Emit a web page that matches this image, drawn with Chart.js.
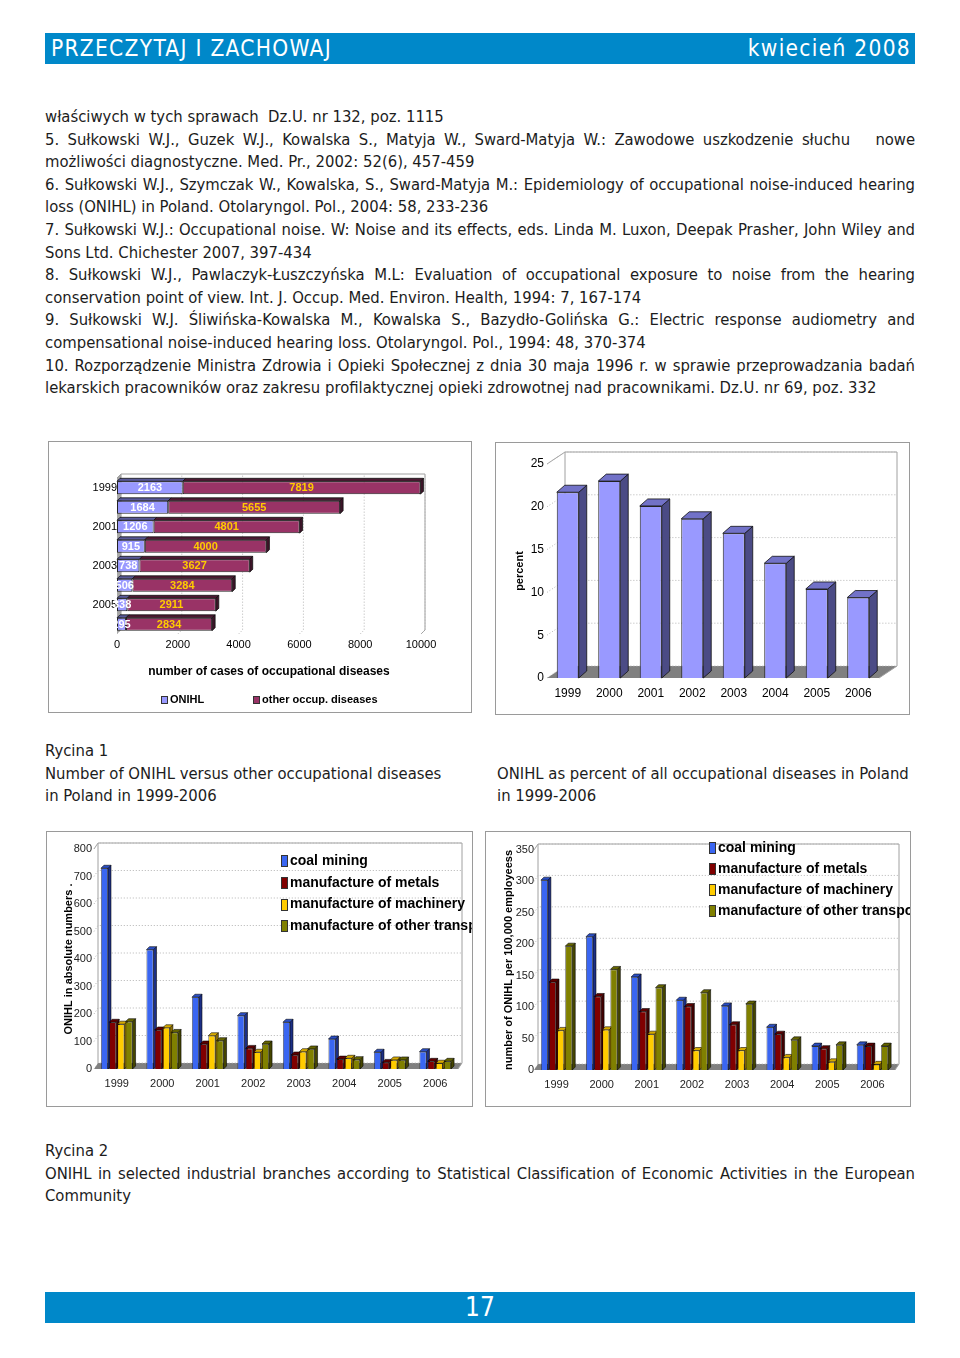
<!DOCTYPE html>
<html lang="pl">
<head>
<meta charset="utf-8">
<title>PRZECZYTAJ I ZACHOWAJ – kwiecień 2008</title>
<script src="https://cdn.jsdelivr.net/npm/chart.js@4.4.1/dist/chart.umd.min.js"></script>
<style>
  html, body { margin: 0; padding: 0; background: #fff; }
  body {
    width: 960px; height: 1358px; position: relative; overflow: hidden;
    font-family: "Liberation Sans Narrow", "DejaVu Sans Condensed", sans-serif;
    color: #1c1c1c;
  }
  .band { position: absolute; left: 45px; width: 870px; height: 31px; background: #0088c9; color: #fff; }
  #head { top: 33px; }
  #head span { position: absolute; top: 2px; font-size: 22.5px; letter-spacing: 1.3px; }
  #foot { top: 1292px; text-align: center; font-size: 26px; line-height: 31px; }
  .text { position: absolute; left: 45px; width: 870px; font-size: 16.5px; line-height: 22.6px; }
  .text div { white-space: nowrap; }
  .text div.j { text-align: justify; text-align-last: justify; white-space: normal; }
  .box { position: absolute; border: 1px solid #9a9a9a; overflow: hidden; background: #fff; }
  .box canvas { position: absolute; left: 0; top: 0; }
  .legend { position: absolute; font-family: "Liberation Sans", Arial, sans-serif; font-weight: bold; color: #000; white-space: nowrap; }
  .legend i { display: inline-block; border: 1px solid #333; margin-right: 2px; vertical-align: middle; }
</style>
</head>
<body>

<div class="band" id="head">
  <span style="left:6px">PRZECZYTAJ I ZACHOWAJ</span>
  <span style="right:4px">kwiecień 2008</span>
</div>

<div class="text" style="top:106px">
  <div>właściwych w tych sprawach&nbsp; Dz.U. nr 132, poz. 1115</div>
  <div class="j">5. Sułkowski W.J., Guzek W.J., Kowalska S., Matyja W., Sward-Matyja W.: Zawodowe uszkodzenie słuchu &nbsp; nowe</div>
  <div>możliwości diagnostyczne. Med. Pr., 2002: 52(6), 457-459</div>
  <div class="j">6. Sułkowski W.J., Szymczak W., Kowalska, S., Sward-Matyja M.: Epidemiology of occupational noise-induced hearing</div>
  <div>loss (ONIHL) in Poland. Otolaryngol. Pol., 2004: 58, 233-236</div>
  <div class="j">7. Sułkowski W.J.: Occupational noise. W: Noise and its effects, eds. Linda M. Luxon, Deepak Prasher, John Wiley and</div>
  <div>Sons Ltd. Chichester 2007, 397-434</div>
  <div class="j">8. Sułkowski W.J., Pawlaczyk-Łuszczyńska M.L: Evaluation of occupational exposure to noise from the hearing</div>
  <div>conservation point of view. Int. J. Occup. Med. Environ. Health, 1994: 7, 167-174</div>
  <div class="j">9. Sułkowski W.J. Śliwińska-Kowalska M., Kowalska S., Bazydło-Golińska G.: Electric response audiometry and</div>
  <div>compensational noise-induced hearing loss. Otolaryngol. Pol., 1994: 48, 370-374</div>
  <div class="j">10. Rozporządzenie Ministra Zdrowia i Opieki Społecznej z dnia 30 maja 1996 r. w sprawie przeprowadzania badań</div>
  <div>lekarskich pracowników oraz zakresu profilaktycznej opieki zdrowotnej nad pracownikami. Dz.U. nr 69, poz. 332</div>
</div>

<div class="box" style="left:48px;top:441px;width:422px;height:270px">
  <canvas id="chart1" width="422" height="270"></canvas>
  <div class="legend" id="legend1" style="left:112px;top:251px;font-size:11px"></div>
</div>
<div class="box" style="left:495px;top:442px;width:413px;height:271px">
  <canvas id="chart2" width="413" height="271"></canvas>
</div>

<div class="text" style="top:740px;width:420px">
  <div>Rycina 1</div>
  <div>Number of ONIHL versus other occupational diseases</div>
  <div>in Poland in 1999-2006</div>
</div>
<div class="text" style="top:762.6px;left:497px;width:420px">
  <div>ONIHL as percent of all occupational diseases in Poland</div>
  <div>in 1999-2006</div>
</div>

<div class="box" style="left:46px;top:831px;width:425px;height:274px">
  <canvas id="chart3" width="425" height="274"></canvas>
  <div class="legend" id="legend3" style="left:234px;top:18px;font-size:14px;line-height:21.7px"></div>
</div>
<div class="box" style="left:485px;top:831px;width:424px;height:274px">
  <canvas id="chart4" width="424" height="274"></canvas>
  <div class="legend" id="legend4" style="left:223px;top:5px;font-size:14px;line-height:21px"></div>
</div>

<div class="text" style="top:1140px">
  <div>Rycina 2</div>
  <div class="j">ONIHL in selected industrial branches according to Statistical Classification of Economic Activities in the European</div>
  <div>Community</div>
</div>

<div class="band" id="foot">17</div>

<script>
// --- data ---
const years = ['1999', '2000', '2001', '2002', '2003', '2004', '2005', '2006'];

// Rycina 1, left: number of cases
const onihlCases = [2163, 1684, 1206, 915, 738, 506, 338, 295];
const otherCases = [7819, 5655, 4801, 4000, 3627, 3284, 2911, 2834];

// Rycina 1, right: ONIHL as percent of all occupational diseases
const onihlPercent = [21.7, 23.0, 20.1, 18.6, 16.9, 13.4, 10.4, 9.4];

// Rycina 2: industrial branches
const branches = ['coal mining', 'manufacture of metals', 'manufacture of machinery', 'manufacture of other transport equipment'];
const coalAbs = [730, 434, 261, 194, 170, 109, 61, 63];
const metalsAbs = [170, 142, 91, 75, 51, 36, 24, 28];
const machineryAbs = [163, 150, 121, 61, 63, 39, 33, 21];
const transportAbs = [172, 133, 103, 91, 73, 34, 33, 28];

const coalRate = [302, 212, 148, 111, 102, 68, 38, 40];
const metalsRate = [140, 117, 93, 101, 72, 57, 34, 38];
const machineryRate = [63, 64, 57, 31, 31, 20, 13, 9];
const transportRate = [197, 160, 131, 123, 105, 48, 40, 38];

// --- colours ---
const branchColors = ['#3a66f2', '#800000', '#ffcc00', '#808000'];
const branchSides = ['#1c2f86', '#420000', '#8a6d00', '#454500'];
const branchTops = ['#2b4fc4', '#5e0000', '#d6aa00', '#656500'];

// squeeze the justified lines a little when the font runs wider than the column
document.querySelectorAll('.text div.j').forEach(div => {
  const txt = div.innerHTML;
  div.innerHTML = '<span style="white-space:nowrap">' + txt + '</span>';
  const w = div.firstChild.getBoundingClientRect().width;
  const room = div.clientWidth - 4;
  if (w > room) div.style.letterSpacing = ((room - w) / div.textContent.length).toFixed(3) + 'px';
  div.innerHTML = txt;
});

const FONT = '"Liberation Sans", Arial, sans-serif';
Chart.defaults.font.family = FONT;
Chart.defaults.color = '#000';

// Fake 3D look: back wall, floor, dotted grid, side and top faces of each bar.
// Runs before Chart.js paints the bar fronts, so fronts cover faces behind them.
const bar3d = {
  id: 'bar3d',
  beforeDatasetsDraw(chart, args, o) {
    const ctx = chart.ctx;
    const a = chart.chartArea;
    const horiz = chart.options.indexAxis === 'y';
    const vs = horiz ? chart.scales.x : chart.scales.y;
    const wx = o.wallX, wy = o.wallY;
    ctx.save();

    // floor (vertical charts) or left wall (horizontal chart)
    ctx.fillStyle = o.floorColor;
    ctx.beginPath();
    if (horiz) {
      ctx.moveTo(a.left, a.bottom);
      ctx.lineTo(a.left + wx, a.bottom - wy);
      ctx.lineTo(a.left + wx, a.top - wy);
      ctx.lineTo(a.left, a.top);
    } else {
      ctx.moveTo(a.left, a.bottom);
      ctx.lineTo(a.right, a.bottom);
      ctx.lineTo(a.right + wx, a.bottom - wy);
      ctx.lineTo(a.left + wx, a.bottom - wy);
    }
    ctx.closePath();
    ctx.fill();

    // wall outline
    ctx.strokeStyle = '#a0a0a0';
    ctx.lineWidth = 1;
    ctx.beginPath();
    ctx.moveTo(a.left, a.top);
    ctx.lineTo(a.left + wx, a.top - wy);
    ctx.lineTo(a.right + wx, a.top - wy);
    ctx.lineTo(a.right + wx, a.bottom - wy);
    ctx.lineTo(a.right, a.bottom);
    ctx.moveTo(a.left + wx, a.top - wy);
    ctx.lineTo(a.left + wx, a.bottom - wy);
    ctx.stroke();

    // dotted grid on the back wall
    ctx.setLineDash([1, 2]);
    ctx.strokeStyle = '#b4b4b4';
    vs.ticks.forEach(t => {
      const p = vs.getPixelForValue(t.value);
      ctx.beginPath();
      if (horiz) {
        ctx.moveTo(p, a.bottom);
        ctx.lineTo(p + wx, a.bottom - wy);
        ctx.lineTo(p + wx, a.top - wy);
      } else {
        ctx.moveTo(a.left, p);
        ctx.lineTo(a.left + wx, p - wy);
        ctx.lineTo(a.right + wx, p - wy);
      }
      ctx.stroke();
    });
    ctx.setLineDash([]);

    // side and top faces
    const dx = o.depthX, dy = o.depthY;
    const last = chart.data.datasets.length - 1;
    ctx.strokeStyle = o.edgeColor;
    ctx.lineWidth = 0.8;
    const face = (pts, fill) => {
      ctx.beginPath();
      ctx.moveTo(pts[0][0], pts[0][1]);
      for (let k = 1; k < pts.length; k++) ctx.lineTo(pts[k][0], pts[k][1]);
      ctx.closePath();
      ctx.fillStyle = fill;
      ctx.fill();
      ctx.stroke();
    };
    chart.data.datasets.forEach((ds, d) => {
      chart.getDatasetMeta(d).data.forEach(el => {
        const p = el.getProps(['x', 'y', 'base', 'width', 'height'], true);
        if (horiz) {
          const y0 = p.y - p.height / 2, y1 = p.y + p.height / 2;
          face([[p.base, y0], [p.base + dx, y0 - dy], [p.x + dx, y0 - dy], [p.x, y0]], o.topColors[d]);
          if (d === last) face([[p.x, y0], [p.x + dx, y0 - dy], [p.x + dx, y1 - dy], [p.x, y1]], o.sideColors[d]);
        } else {
          const x0 = p.x - p.width / 2, x1 = p.x + p.width / 2;
          face([[x1, p.y], [x1 + dx, p.y - dy], [x1 + dx, p.base - dy], [x1, p.base]], o.sideColors[d]);
          face([[x0, p.y], [x0 + dx, p.y - dy], [x1 + dx, p.y - dy], [x1, p.y]], o.topColors[d]);
        }
      });
    });
    ctx.restore();
  }
};

// value labels inside the stacked bars of chart 1
const barValues = {
  id: 'barValues',
  afterDatasetsDraw(chart, args, o) {
    const ctx = chart.ctx;
    ctx.save();
    ctx.font = 'bold 11px ' + FONT;
    ctx.textAlign = 'center';
    ctx.textBaseline = 'middle';
    chart.data.datasets.forEach((ds, d) => {
      ctx.fillStyle = o.colors[d];
      chart.getDatasetMeta(d).data.forEach((el, i) => {
        const p = el.getProps(['x', 'y', 'base'], true);
        ctx.fillText(String(ds.data[i]), (p.x + p.base) / 2, p.y + 0.5);
      });
    });
    ctx.restore();
  }
};

function htmlLegend(id, labels, colors, w, h) {
  document.getElementById(id).innerHTML = labels.map((l, i) =>
    '<div><i style="width:' + w + 'px;height:' + h + 'px;background:' + colors[i] + '"></i>' + l + '</div>'
  ).join('');
}

const noGrid = { display: false, drawTicks: false };
const noBorder = { display: false };
const plain = v => String(v);

// Chart 1: ONIHL vs other occupational diseases (horizontal, stacked)
new Chart(document.getElementById('chart1'), {
  type: 'bar',
  data: {
    labels: years,
    datasets: [
      { label: 'ONIHL', data: onihlCases, backgroundColor: '#9999ff' },
      { label: 'other occup. diseases', data: otherCases, backgroundColor: '#993366' }
    ]
  },
  options: {
    indexAxis: 'y',
    responsive: false,
    animation: false,
    datasets: { bar: { borderWidth: 1, borderColor: '#222', borderSkipped: false, categoryPercentage: 0.66, barPercentage: 1 } },
    layout: { padding: { left: 0, right: 50, top: 36, bottom: 30 } },
    plugins: {
      legend: { display: false },
      tooltip: { enabled: false },
      bar3d: { wallX: 4, wallY: 4, depthX: 3, depthY: 3, floorColor: '#a6a6a6', edgeColor: '#111',
               sideColors: ['#4c4c80', '#3c1428'], topColors: ['#5a5a99', '#4d1a33'] },
      barValues: { colors: ['#ffffff', '#ffcc00'] }
    },
    scales: {
      x: {
        stacked: true, min: 0, max: 10000,
        grid: noGrid, border: noBorder,
        ticks: { stepSize: 2000, padding: 4, font: { size: 11 }, callback: plain },
        title: { display: true, text: 'number of cases of occupational diseases', font: { size: 12, weight: 'bold' }, padding: { top: 0, bottom: 3 } },
        afterFit: s => { s.height = 48; }
      },
      y: {
        stacked: true,
        grid: noGrid, border: noBorder,
        ticks: {
          autoSkip: false, padding: 0, font: { size: 11 },
          callback: function (v, i) { return i % 2 === 0 ? this.getLabelForValue(v) : ''; }
        },
        afterFit: s => { s.width = 68; }
      }
    }
  },
  plugins: [bar3d, barValues]
});
htmlLegend('legend1', ['ONIHL'], ['#9999ff'], 5, 6);
document.getElementById('legend1').innerHTML +=
  '<div style="position:absolute;left:92px;top:0"><i style="width:5px;height:6px;background:#993366"></i>other occup. diseases</div>';

// Chart 2: ONIHL as percent
new Chart(document.getElementById('chart2'), {
  type: 'bar',
  data: {
    labels: years,
    datasets: [{ label: 'percent', data: onihlPercent, backgroundColor: '#9999ff' }]
  },
  options: {
    responsive: false,
    animation: false,
    datasets: { bar: { borderWidth: 1, borderColor: '#222', categoryPercentage: 0.53, barPercentage: 1 } },
    layout: { padding: { left: 17, right: 30, top: 21, bottom: 0 } },
    plugins: {
      legend: { display: false },
      tooltip: { enabled: false },
      bar3d: { wallX: 18, wallY: 12, depthX: 8, depthY: 7, floorColor: '#808080', edgeColor: '#111',
               sideColors: ['#4b4b85'], topColors: ['#7272c8'] }
    },
    scales: {
      x: {
        grid: noGrid, border: noBorder,
        ticks: { padding: 8, font: { size: 12 } },
        afterFit: s => { s.height = 36; }
      },
      y: {
        min: 0, max: 25,
        grid: noGrid, border: noBorder,
        ticks: { stepSize: 5, padding: 3, font: { size: 12 } },
        title: { display: true, text: 'percent', font: { size: 11, weight: 'bold' }, padding: 0 },
        afterFit: s => { s.width = 34; }
      }
    }
  },
  plugins: [bar3d]
});

// Charts 3 and 4: industrial branches
function branchChart(id, series, max, step, yTitle, padLeft, yWidth, padRight, padTop, xHeight, tickPad) {
  return new Chart(document.getElementById(id), {
    type: 'bar',
    data: {
      labels: years,
      datasets: branches.map((b, i) => ({ label: b, data: series[i], backgroundColor: branchColors[i] }))
    },
    options: {
      responsive: false,
      animation: false,
      datasets: { bar: { borderWidth: 0.8, borderColor: 'rgba(0,0,0,0.7)', categoryPercentage: 0.72, barPercentage: 0.86 } },
      layout: { padding: { left: padLeft, right: padRight, top: padTop, bottom: 0 } },
      plugins: {
        legend: { display: false },
        tooltip: { enabled: false },
        bar3d: { wallX: 4, wallY: 6, depthX: 3, depthY: 3, floorColor: '#808080', edgeColor: 'rgba(0,0,0,0.7)',
                 sideColors: branchSides, topColors: branchTops }
      },
      scales: {
        x: {
          grid: noGrid, border: noBorder,
          ticks: { padding: 8, font: { size: 11 }, color: '#222' },
          afterFit: s => { s.height = xHeight; }
        },
        y: {
          min: 0, max: max,
          grid: noGrid, border: noBorder,
          ticks: { stepSize: step, padding: tickPad, font: { size: 11 }, color: '#222' },
          title: { display: true, text: yTitle, font: { size: 11, weight: 'bold' }, padding: 0 },
          afterFit: s => { s.width = yWidth; }
        }
      }
    },
    plugins: [bar3d]
  });
}

branchChart('chart3', [coalAbs, metalsAbs, machineryAbs, transportAbs], 800, 100,
  'ONIHL in absolute numbers .', 15, 32, 14, 17, 37, 2);
branchChart('chart4', [coalRate, metalsRate, machineryRate, transportRate], 350, 50,
  'number of ONIHL per 100,000 employeess', 16, 32, 15, 18, 36, 0);

htmlLegend('legend3', branches, branchColors, 5, 10);
htmlLegend('legend4', branches, branchColors, 5, 10);
</script>
</body>
</html>
